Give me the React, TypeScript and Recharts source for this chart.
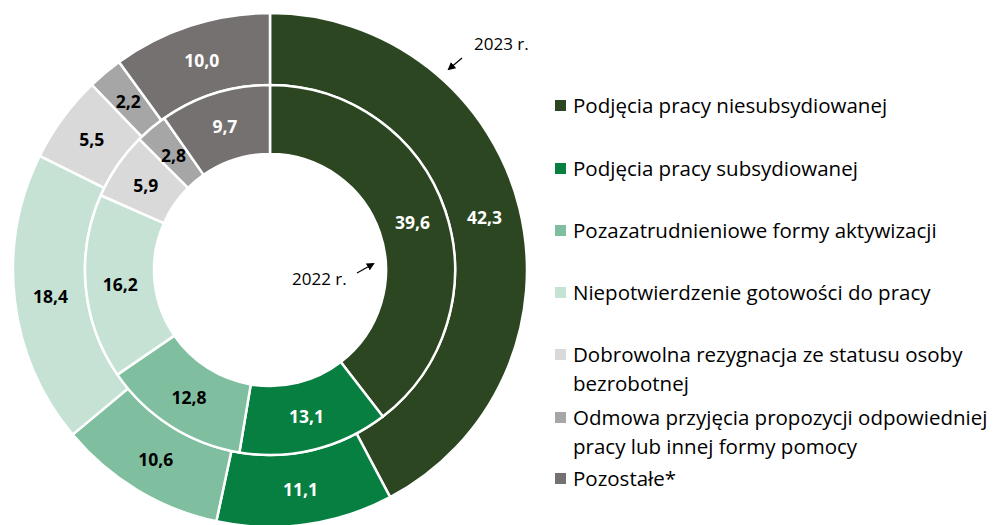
import { PieChart, Pie, Cell } from "recharts";

const categories = [
  "Podjęcia pracy niesubsydiowanej",
  "Podjęcia pracy subsydiowanej",
  "Pozazatrudnieniowe formy aktywizacji",
  "Niepotwierdzenie gotowości do pracy",
  "Dobrowolna rezygnacja ze statusu osoby bezrobotnej",
  "Odmowa przyjęcia propozycji odpowiedniej pracy lub innej formy pomocy",
  "Pozostałe*",
];
const values2023 = [42.3, 11.1, 10.6, 18.4, 5.5, 2.2, 10.0];
const values2022 = [39.6, 13.1, 12.8, 16.2, 5.9, 2.8, 9.7];
const colors = ["#2b4620", "#067f41", "#7fbf9f", "#c6e2d5", "#d9d9d9", "#a6a6a6", "#767171"];
const labelColors = ["#fff", "#fff", "#000", "#000", "#000", "#000", "#fff"];

const data2023 = categories.map((name, i) => ({ name, value: values2023[i] }));
const data2022 = categories.map((name, i) => ({ name, value: values2022[i] }));

const FONT = "'Open Sans', sans-serif";
const RAD = Math.PI / 180;

// greedy wrap of legend text, ~40 chars per line
const wrap = (s: string, max = 40) => {
  const lines: string[] = [];
  let cur = "";
  for (const w of s.split(" ")) {
    if (cur && (cur + " " + w).length > max) {
      lines.push(cur);
      cur = w;
    } else cur = cur ? cur + " " + w : w;
  }
  if (cur) lines.push(cur);
  return lines;
};

const renderLabel = (props: any) => {
  const { cx, cy, midAngle, innerRadius, outerRadius, index, value } = props;
  const r = (innerRadius + outerRadius) / 2;
  const x = cx + r * Math.cos(-midAngle * RAD);
  const y = cy + r * Math.sin(-midAngle * RAD);
  return (
    <text
      x={x}
      y={y}
      fill={labelColors[index]}
      textAnchor="middle"
      dominantBaseline="central"
      fontFamily={FONT}
      fontWeight={700}
      fontSize={17.5}
    >
      {Number(value).toFixed(1).replace(".", ",")}
    </text>
  );
};

export default function App() {
  return (
    <div style={{ position: "absolute", left: 0, top: 0, width: 999, height: 525, background: "#fff", overflow: "hidden" }}>
      <PieChart width={540} height={525} margin={{ top: 0, right: 0, bottom: 0, left: 0 }}>
        <Pie
          data={data2023}
          dataKey="value"
          cx={270}
          cy={270}
          innerRadius={185}
          outerRadius={257}
          startAngle={90}
          endAngle={-270}
          stroke="#fff"
          strokeWidth={2.5}
          label={renderLabel}
          labelLine={false}
          isAnimationActive={false}
        >
          {data2023.map((d, i) => (
            <Cell key={d.name} fill={colors[i]} />
          ))}
        </Pie>
        <Pie
          data={data2022}
          dataKey="value"
          cx={270}
          cy={270}
          innerRadius={116}
          outerRadius={185}
          startAngle={90}
          endAngle={-270}
          stroke="#fff"
          strokeWidth={2.5}
          label={renderLabel}
          labelLine={false}
          isAnimationActive={false}
        >
          {data2022.map((d, i) => (
            <Cell key={d.name} fill={colors[i]} />
          ))}
        </Pie>
      </PieChart>

      <svg width={999} height={525} style={{ position: "absolute", left: 0, top: 0, pointerEvents: "none" }}>
        <defs>
          <marker id="arr" markerWidth="8" markerHeight="8" refX="6" refY="4" orient="auto" markerUnits="userSpaceOnUse">
            <path d="M0,0 L8,4 L0,8 z" fill="#000" />
          </marker>
        </defs>
        <text x={474} y={50} fontFamily={FONT} fontSize={17} fill="#000">2023 r.</text>
        <line x1={462} y1={58} x2={449} y2={69} stroke="#000" strokeWidth={1.2} markerEnd="url(#arr)" />
        <text x={292} y={285} fontFamily={FONT} fontSize={17} fill="#000">2022 r.</text>
        <line x1={357} y1={273} x2={373} y2={264} stroke="#000" strokeWidth={1.2} markerEnd="url(#arr)" />
      </svg>

      <div style={{ position: "absolute", left: 555, top: 0, width: 444, fontFamily: FONT, fontSize: 20.5, color: "#000", lineHeight: "29px" }}>
        {categories.map((c, i) => {
          const tops = [91, 154, 216, 278, 340, 403, 464];
          return (
            <div key={c} style={{ position: "absolute", top: tops[i], left: 0, display: "flex", alignItems: "flex-start", whiteSpace: "nowrap" }}>
              <span style={{ width: 11, height: 11, background: colors[i], marginTop: 9, marginRight: 7, flex: "none" }} />
              <span>
                {wrap(c).map((l, k) => (
                  <div key={k}>{l}</div>
                ))}
              </span>
            </div>
          );
        })}
      </div>
    </div>
  );
}
